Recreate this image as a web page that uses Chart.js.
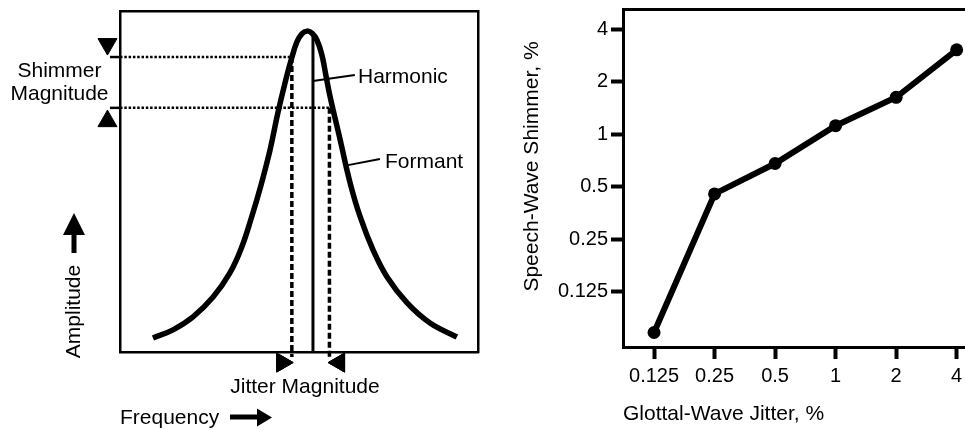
<!DOCTYPE html>
<html>
<head>
<meta charset="utf-8">
<script src="https://cdn.jsdelivr.net/npm/chart.js@4.4.1/dist/chart.umd.min.js"></script>
<style>
  body { margin: 0; background: #fff; }
  #wrap { position: relative; width: 965px; height: 430px; overflow: hidden; font-family: 'Liberation Sans', Arial, sans-serif; color: #000; }
  canvas { position: absolute; top: 0; }
  #formantChart { left: 0; }
  #shimmerChart { left: 500px; }
  .lbl { position: absolute; font-size: 21px; line-height: 21px; white-space: nowrap; }
  svg { position: absolute; left: 0; top: 0; }
</style>
</head>
<body>
<div id="wrap">
  <canvas id="formantChart" width="500" height="430"></canvas>
  <canvas id="shimmerChart" width="500" height="430"></canvas>
  <svg width="965" height="430">
    <polygon points="63,235 85,235 74,213" fill="#000"/>
    <rect x="71.5" y="234" width="5" height="19" fill="#000"/>
    <rect x="230" y="414.5" width="28" height="5" fill="#000"/>
    <polygon points="257,408.5 257,426.5 272,417.5" fill="#000"/>
  </svg>
  <div class="lbl" style="left:0;top:58px;width:119px;text-align:center;line-height:23px">Shimmer<br>Magnitude</div>
  <div class="lbl" style="left:358px;top:65px">Harmonic</div>
  <div class="lbl" style="left:385px;top:150px">Formant</div>
  <div class="lbl" style="left:205px;top:375px;width:200px;text-align:center">Jitter Magnitude</div>
  <div class="lbl" style="left:120px;top:406px">Frequency</div>
  <div class="lbl" style="left:12.2px;top:300.5px;width:120px;text-align:center;transform:rotate(-90deg)">Amplitude</div>
  <div class="lbl" style="left:380.2px;top:155.5px;width:300px;text-align:center;transform:rotate(-90deg)">Speech-Wave Shimmer, %</div>
</div>
<script>
// left panel, arbitrary units (frequency 0-100, amplitude 0-100)
const formantFreq = [9.2, 14.8, 20.4, 26.0, 30.7, 33.8, 36.6, 39.4, 41.9, 44.1, 46.1, 47.8, 49.4, 50.8, 52.2,
                     53.6, 55.0, 56.4, 57.5, 58.7, 61.5, 64.2, 67.0, 70.7, 74.6, 80.2, 86.6, 94.1];
const formantAmp = [4.1, 6.5, 10.3, 16.1, 23.2, 30.2, 39.0, 49.0, 59.2, 70.1, 78.9, 85.6, 90.9, 93.3, 94.1,
                    93.5, 91.5, 87.1, 81.2, 74.8, 62.2, 49.9, 39.9, 29.9, 22.0, 14.4, 8.5, 4.4];
const harmonicFreq = 53.9;
const harmonicTop = 93.3;
const jitterLowFreq = 48.0;
const jitterHighFreq = 58.5;
const shimmerHighAmp = 86.5;
const shimmerLowAmp = 71.6;

// right panel
const glottalJitter = [0.125, 0.25, 0.5, 1, 2, 4];
const speechShimmer = [0.073, 0.455, 0.68, 1.12, 1.63, 3.05];
const jitterTicks = [0.125, 0.25, 0.5, 1, 2, 4];
const shimmerTicks = [0.125, 0.25, 0.5, 1, 2, 4];

Chart.defaults.font.family = "'Liberation Sans', Arial, sans-serif";
Chart.defaults.color = '#000';

const BLACK = '#000';

function seg(x1, y1, x2, y2, width, dash) {
    return {
        data: [{x: x1, y: y1}, {x: x2, y: y2}],
        borderColor: BLACK, borderWidth: width, borderDash: dash || [],
        pointRadius: 0, clip: false, borderCapStyle: 'butt'
    };
}

// points outside the chart area are skipped by Chart.js, draw the marker set again without the limit
const outsideMarkers = {
    id: 'outsideMarkers',
    afterDatasetsDraw(chart) {
        const all = {left: 0, top: 0, right: chart.width, bottom: chart.height};
        chart.data.datasets.forEach((ds, i) => {
            if (!ds.markers) return;
            chart.getDatasetMeta(i).data.forEach(p => p.draw(chart.ctx, all));
        });
    }
};

const boxAxis = (pos, size) => ({
    type: 'linear', position: pos, display: true,
    afterDataLimits: s => { s.min = 0; s.max = 100; },
    ticks: {display: false}, grid: {display: false},
    border: {display: true, width: 2.5, color: BLACK},
    afterFit: s => { if (pos === 'top' || pos === 'bottom') s.height = size; else s.width = size; }
});

new Chart(document.getElementById('formantChart'), {
    type: 'line',
    data: {
        datasets: [
            {
                data: formantFreq.map((f, i) => ({x: f, y: formantAmp[i]})),
                borderColor: BLACK, borderWidth: 5.5, tension: 0.4,
                pointRadius: 0, clip: false, borderCapStyle: 'butt'
            },
            seg(harmonicFreq, 0, harmonicFreq, harmonicTop, 3),
            seg(jitterLowFreq, shimmerHighAmp, jitterLowFreq, -1.5, 3.5, [6, 3]),
            seg(jitterHighFreq, shimmerLowAmp, jitterHighFreq, -1.5, 3.5, [6, 3]),
            seg(0, shimmerHighAmp, jitterLowFreq, shimmerHighAmp, 2.5, [2.5, 1.8]),
            seg(0, shimmerLowAmp, jitterHighFreq, shimmerLowAmp, 2.5, [2.5, 1.8]),
            seg(-2.8, shimmerHighAmp, 0, shimmerHighAmp, 2.5),
            seg(-2.8, shimmerLowAmp, 0, shimmerLowAmp, 2.5),
            // leader lines
            seg(53.9, 79.5, 65.6, 81.2, 2),
            seg(63.7, 54.8, 72.6, 56.6, 2),
            {
                // magnitude markers
                markers: true,
                data: [{x: -3.5, y: 90.3}, {x: -3.5, y: 67.7}, {x: 45.3, y: -3.1}, {x: 61.2, y: -3.1}],
                showLine: false, pointStyle: 'triangle', pointRadius: 11,
                pointRotation: [180, 0, 90, 270],
                pointBackgroundColor: BLACK, pointBorderColor: BLACK, pointBorderWidth: 1, clip: false
            }
        ]
    },
    options: {
        responsive: false, animation: false, devicePixelRatio: 1,
        layout: {autoPadding: false, padding: 0},
        plugins: {legend: {display: false}, tooltip: {enabled: false}},
        scales: {
            x: boxAxis('bottom', 78),
            x2: boxAxis('top', 11),
            y: boxAxis('left', 120),
            y2: boxAxis('right', 22)
        }
    },
    plugins: [outsideMarkers]
});

const tickFont = {size: 20};
const titleFont = {size: 21};
const tickGrid = {display: true, drawOnChartArea: false, drawTicks: true, tickLength: 12, tickWidth: 4, tickColor: BLACK};

// canvas runs past the page edge on purpose: the open right side of the box is cut off there
new Chart(document.getElementById('shimmerChart'), {
    type: 'line',
    data: {
        datasets: [{
            data: glottalJitter.map((j, i) => ({x: j, y: speechShimmer[i]})),
            borderColor: BLACK, borderWidth: 6, tension: 0,
            pointRadius: 6.5, pointBorderWidth: 0, pointBackgroundColor: BLACK
        }]
    },
    options: {
        responsive: false, animation: false, devicePixelRatio: 1,
        layout: {autoPadding: false, padding: 0},
        plugins: {legend: {display: false}, tooltip: {enabled: false}},
        scales: {
            x: {
                type: 'logarithmic', position: 'bottom', min: 0.0876, max: 6.57,
                afterBuildTicks: s => { s.ticks = jitterTicks.map(v => ({value: v})); },
                afterFit: s => { s.height = 83; },
                ticks: {callback: v => String(v), font: tickFont, color: BLACK, padding: 5, autoSkip: false, maxRotation: 0},
                grid: tickGrid,
                border: {display: true, width: 3, color: BLACK},
                title: {display: true, text: 'Glottal-Wave Jitter, %', align: 'start', font: titleFont, color: BLACK, padding: {top: 0, bottom: 3}}
            },
            x2: {
                type: 'linear', position: 'top', display: true, min: 0, max: 1,
                ticks: {display: false}, grid: {display: false},
                border: {display: true, width: 3, color: BLACK},
                afterFit: s => { s.height = 9; }
            },
            y: {
                type: 'logarithmic', position: 'left', min: 0.0603, max: 5.23,
                afterBuildTicks: s => { s.ticks = shimmerTicks.map(v => ({value: v})); },
                afterFit: s => { s.width = 123; s.paddingTop = 0; s.paddingBottom = 0; },
                ticks: {callback: v => String(v), font: tickFont, color: BLACK, padding: 3, autoSkip: false},
                grid: tickGrid,
                border: {display: true, width: 3, color: BLACK}
            }
        }
    }
});
</script>
</body>
</html>
